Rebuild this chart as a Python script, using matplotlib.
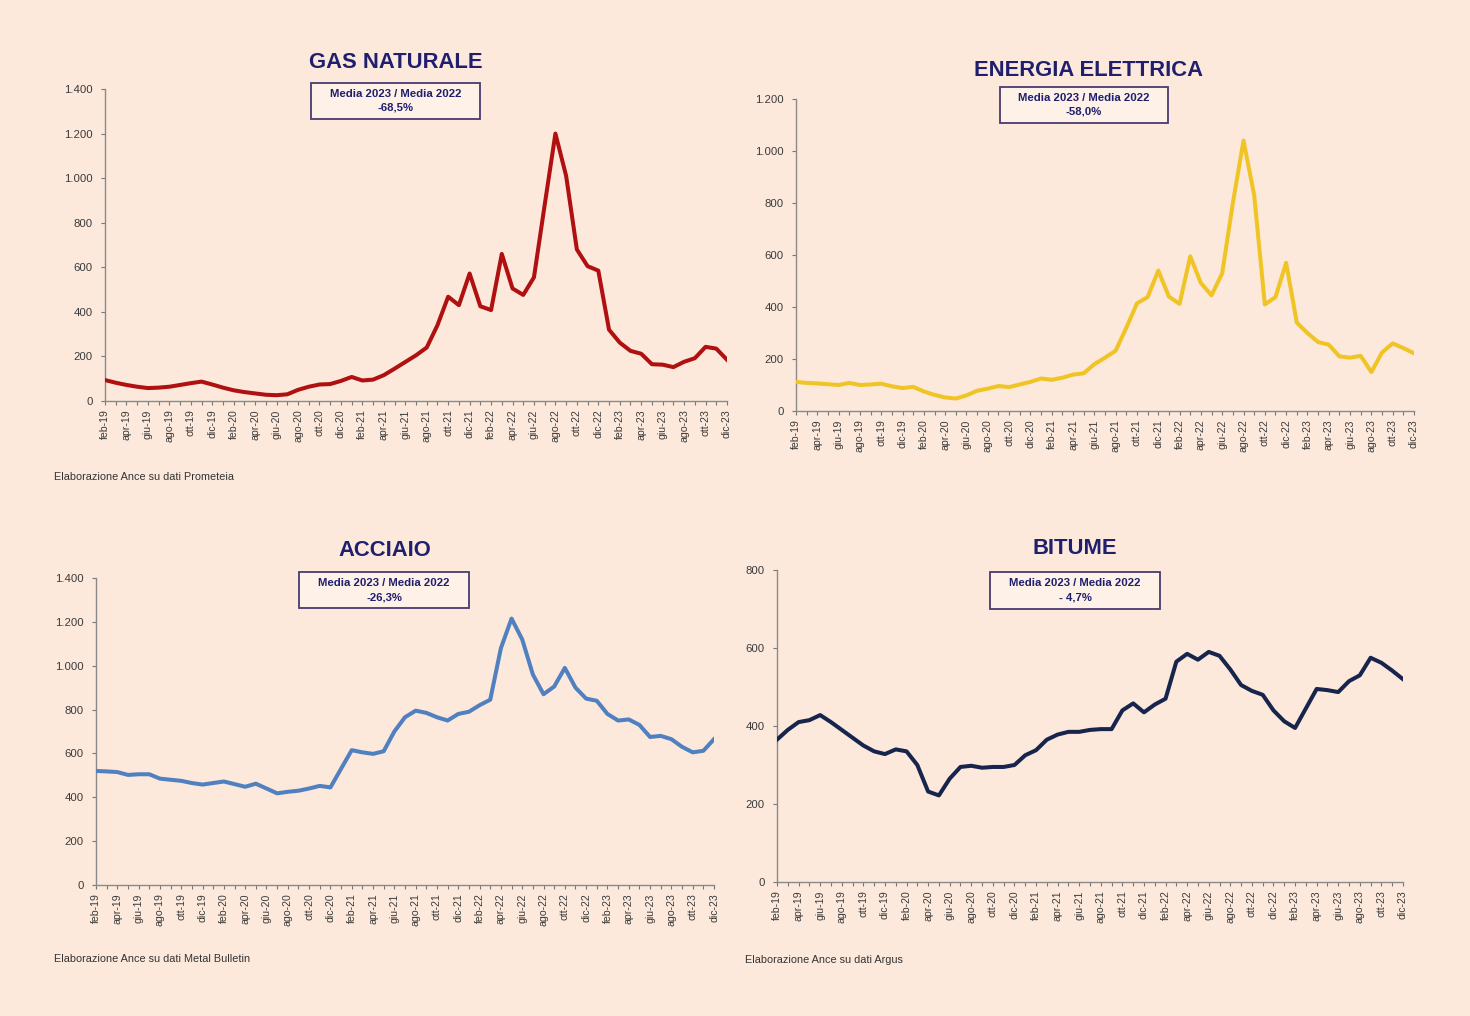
import matplotlib
matplotlib.use("Agg")
import matplotlib.pyplot as plt
from matplotlib.ticker import FuncFormatter, MultipleLocator, FixedLocator

plt.rcParams['font.family'] = ['Liberation Sans', 'DejaVu Sans']

# ---- data ----
mesi = ["gen", "feb", "mar", "apr", "mag", "giu", "lug", "ago", "set", "ott", "nov", "dic"]
months = []
for y in range(19, 24):
    for m in mesi:
        months.append(f"{m}-{y}")
months = months[1:]  # feb-19 .. dic-23

gas = [94, 82, 72, 64, 58, 60, 64, 72, 80, 87, 74, 60, 48, 40, 34, 28, 26, 30, 50, 64,
       74, 76, 90, 108, 92, 96, 116, 145, 175, 205, 240, 340, 468, 430, 572, 425, 408, 660,
       505, 476, 555, 880, 1200, 1010, 680, 605, 585, 320, 262, 225, 212, 165, 163, 152,
       176, 192, 243, 235, 185]

energia = [112, 108, 106, 103, 100, 108, 100, 102, 105, 95, 88, 93, 75, 62, 52, 48, 60, 78,
           86, 96, 92, 102, 112, 125, 120, 128, 140, 145, 180, 205, 232, 320, 414, 438, 540,
           440, 412, 595, 492, 445, 530, 800, 1040, 830, 410, 438, 570, 340, 300, 265, 255,
           210, 205, 212, 150, 225, 260, 242, 222]

acciaio = [520, 518, 515, 502, 505, 505, 485, 480, 475, 465, 458, 465, 472, 460, 448, 462,
           440, 418, 425, 430, 440, 452, 445, 530, 615, 605, 598, 610, 700, 765, 795, 785,
           765, 750, 780, 790, 820, 845, 1080, 1215, 1120, 960, 870, 905, 990, 900, 850, 840,
           780, 750, 755, 730, 675, 680, 665, 630, 605, 612, 665]

bitume = [365, 390, 410, 415, 428, 410, 390, 370, 350, 335, 328, 340, 335, 300, 232, 222,
          265, 295, 298, 293, 295, 295, 300, 325, 338, 365, 378, 385, 385, 390, 392, 392,
          440, 458, 435, 455, 470, 565, 585, 570, 590, 580, 545, 505, 490, 480, 440, 412,
          395, 445, 495, 492, 487, 515, 530, 575, 562, 542, 520]

titles = ["GAS NATURALE", "ENERGIA ELETTRICA", "ACCIAIO", "BITUME"]
ratios = ["-68,5%", "-58,0%", "-26,3%", "- 4,7%"]
sources = ["Elaborazione Ance su dati Prometeia", None,
           "Elaborazione Ance su dati Metal Bulletin", "Elaborazione Ance su dati Argus"]
box_label = "Media 2023 / Media 2022"

# ---- style ----
BG = "#fce9dc"
TXT = "#1f1f6e"
colors = ["#b0100f", "#f0c425", "#5080c0", "#17254d"]
W, H = 1470, 1016

fig = plt.figure(figsize=(W / 100, H / 100), dpi=100, facecolor=BG)

# axes rectangles in pixels: left, top, right, bottom
rects = [(105, 89, 727, 401), (796, 99, 1414, 411), (96, 578, 714, 885), (777, 570, 1403, 882)]
ymax = [1400, 1200, 1400, 800]
ystep = [200, 200, 200, 200]
series = [gas, energia, acciaio, bitume]
title_pos = [(396, 63), (1088, 70), (385, 551), (1075, 549)]
box_rects = [(311, 83, 480, 119), (1000, 87, 1168, 123), (299, 572, 469, 608), (990, 572, 1160, 609)]
source_pos = [(54, 477), None, (54, 959), (745, 960)]

def fmt(v, pos):
    s = f"{int(round(v)):,}".replace(",", ".")
    return s

x = list(range(len(months)))
for i in range(4):
    l, t, r, b = rects[i]
    ax = fig.add_axes([l / W, 1 - b / H, (r - l) / W, (b - t) / H])
    ax.set_facecolor(BG)
    ax.plot(x, series[i], color=colors[i], lw=2.9, solid_joinstyle="round", zorder=3)
    ax.set_xlim(0, len(months) - 1)
    ax.set_ylim(0, ymax[i])
    ax.yaxis.set_major_locator(MultipleLocator(ystep[i]))
    ax.yaxis.set_major_formatter(FuncFormatter(fmt))
    ax.set_xticks(x[::2])
    ax.set_xticklabels(months[::2], rotation=90, fontsize=7.6, color="#3a3a3a")
    ax.xaxis.set_minor_locator(FixedLocator(x))
    ax.tick_params(axis="y", labelsize=8.2, colors="#777777", labelcolor="#3a3a3a",
                   length=3, width=0.8, pad=6)
    ax.tick_params(axis="x", which="both", length=3, width=0.8, colors="#777777",
                   labelcolor="#3a3a3a", pad=3)
    for s in ["top", "right"]:
        ax.spines[s].set_visible(False)
    for s in ["left", "bottom"]:
        ax.spines[s].set_color("#8a8a8a")
        ax.spines[s].set_linewidth(1.0)

    tx, ty = title_pos[i]
    fig.text(tx / W, 1 - ty / H, titles[i], ha="center", va="center",
             fontsize=15.8, fontweight="bold", color=TXT)

    bl, bt, br, bb = box_rects[i]
    box = plt.Rectangle((bl / W, 1 - bb / H), (br - bl) / W, (bb - bt) / H,
                        transform=fig.transFigure, facecolor="#fdf1e8",
                        edgecolor="#4a3a70", linewidth=1.3, zorder=5)
    fig.patches.append(box)
    cx = (bl + br) / 2 / W
    fig.text(cx, 1 - (bt + 11) / H, box_label, ha="center", va="center",
             fontsize=8.2, fontweight="bold", color=TXT, zorder=6)
    fig.text(cx, 1 - (bt + 25) / H, ratios[i], ha="center", va="center",
             fontsize=8.2, fontweight="bold", color=TXT, zorder=6)

    if sources[i] is not None:
        sx, sy = source_pos[i]
        fig.text(sx / W, 1 - sy / H, sources[i], ha="left", va="center",
                 fontsize=7.8, color="#333333")

fig.savefig("out.png", dpi=100, facecolor=BG)
